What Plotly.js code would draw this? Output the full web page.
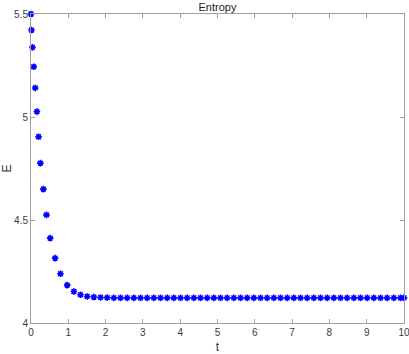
<!DOCTYPE html>
<html lang="en">
<head>
    <meta charset="UTF-8">
    <title>Entropy</title>
    <script src="https://cdn.plot.ly/plotly-3.0.1.min.js"></script>
    <style>
        html, body { margin: 0; padding: 0; background: #ffffff; }
        #plot { width: 409px; height: 354px; }
    </style>
</head>
<body>
    <div id="plot"></div>
    <script>
        // time samples (adaptive steps at start, then regular)
        const tValues = [
            0, 0.013, 0.038, 0.074, 0.113, 0.158, 0.203, 0.252, 0.332, 0.415,
            0.514, 0.647, 0.790, 0.970, 1.149, 1.327, 1.506, 1.685, 1.864, 2.042,
            2.221, 2.400, 2.578, 2.757, 2.936, 3.115, 3.293, 3.472, 3.651, 3.829,
            4.008, 4.187, 4.366, 4.544, 4.723, 4.902, 5.080, 5.259, 5.438, 5.617,
            5.795, 5.974, 6.153, 6.331, 6.510, 6.689, 6.868, 7.046, 7.225, 7.404,
            7.582, 7.761, 7.940, 8.119, 8.297, 8.476, 8.655, 8.833, 9.012, 9.191,
            9.370, 9.548, 9.727, 9.906, 10
        ];

        // entropy values
        const eValues = [
            5.500, 5.422, 5.338, 5.244, 5.141, 5.026, 4.904, 4.776, 4.650, 4.525,
            4.412, 4.315, 4.239, 4.184, 4.153, 4.137, 4.129, 4.126, 4.124, 4.123,
            4.122, 4.122, 4.122, 4.122, 4.122, 4.122, 4.122, 4.122, 4.122, 4.122,
            4.122, 4.122, 4.122, 4.122, 4.122, 4.122, 4.122, 4.122, 4.122, 4.122,
            4.122, 4.122, 4.122, 4.122, 4.122, 4.122, 4.122, 4.122, 4.122, 4.122,
            4.122, 4.122, 4.122, 4.122, 4.122, 4.122, 4.122, 4.122, 4.122, 4.122,
            4.122, 4.122, 4.122, 4.122, 4.122
        ];

        const xTicks = [0, 1, 2, 3, 4, 5, 6, 7, 8, 9, 10];
        const yTicks = [4, 4.5, 5, 5.5];
        const yTickLabels = ['4', '4.5', '5', '5.5'];

        const trace = {
            type: 'scatter',
            mode: 'markers',
            x: tValues,
            y: eValues,
            marker: {
                symbol: 'asterisk-open',
                size: 5.5,
                color: '#0000ff',
                line: { color: '#0000ff', width: 1.6 }
            },
            cliponaxis: false,
            hoverinfo: 'x+y'
        };

        const axisCommon = {
            showline: true,
            linecolor: '#a0a0a0',
            linewidth: 1,
            mirror: 'ticks',
            ticks: 'inside',
            ticklen: 4,
            tickcolor: '#a0a0a0',
            showgrid: false,
            zeroline: false,
            ticklabeloverflow: 'allow',
            tickfont: { family: 'Liberation Sans, Arial, sans-serif', size: 10, color: '#3a3a3a' }
        };

        const layout = {
            width: 409,
            height: 354,
            paper_bgcolor: '#ffffff',
            plot_bgcolor: '#ffffff',
            margin: { l: 31, r: 5, t: 14, b: 31 },
            showlegend: false,
            title: {
                text: 'Entropy',
                font: { family: 'Liberation Sans, Arial, sans-serif', size: 11, color: '#222222' },
                xref: 'paper', x: 0.5, xanchor: 'center',
                yref: 'container', y: 0.981, yanchor: 'middle'
            },
            xaxis: Object.assign({}, axisCommon, {
                range: [0, 10],
                automargin: false,
                tickvals: xTicks,
                ticktext: xTicks.map(String),
                title: { text: 't', standoff: 6, font: { family: 'Liberation Sans, Arial, sans-serif', size: 12, color: '#333333' } }
            }),
            yaxis: Object.assign({}, axisCommon, {
                range: [4, 5.5],
                automargin: false,
                tickvals: yTicks,
                ticktext: yTickLabels,
                title: { text: 'E', standoff: 8, font: { family: 'Liberation Sans, Arial, sans-serif', size: 12, color: '#333333' } }
            })
        };

        Plotly.newPlot('plot', [trace], layout, { displayModeBar: false, staticPlot: true });
    </script>
</body>
</html>
